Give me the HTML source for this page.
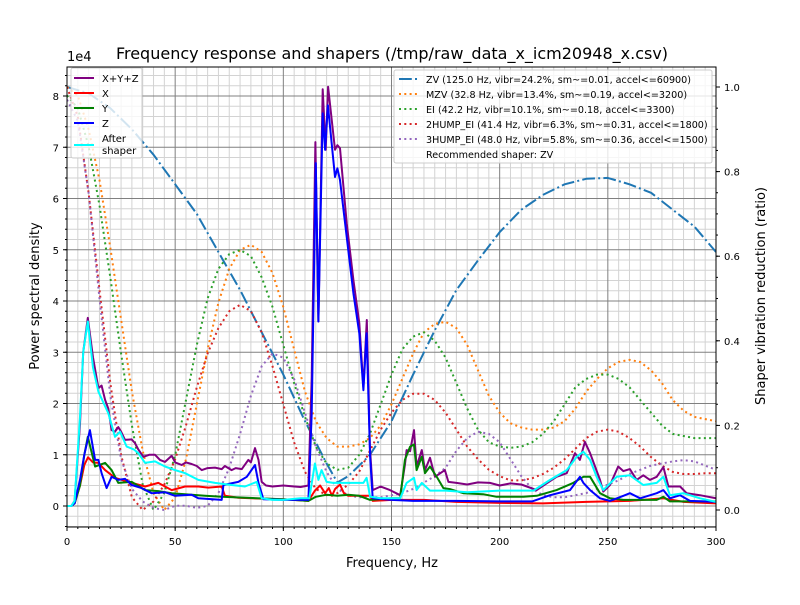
<!DOCTYPE html>
<html><head><meta charset="utf-8"><style>
html,body{margin:0;padding:0;background:#fff;}
svg text{font-family:"DejaVu Sans","Liberation Sans",sans-serif;}
</style></head><body>
<svg id="chart" width="800" height="600" xmlns="http://www.w3.org/2000/svg">
<defs><clipPath id="clip"><rect x="67" y="67" width="649" height="460"/></clipPath></defs>
<rect x="0" y="0" width="800" height="600" fill="#fff"/>
<g id="grid"></g>
<g id="series" clip-path="url(#clip)"></g>
<rect x="67" y="67" width="649" height="460" fill="none" stroke="#000" stroke-width="1"/>
<g id="axes"></g>
<text x="392" y="59" font-size="16" text-anchor="middle">Frequency response and shapers (/tmp/raw_data_x_icm20948_x.csv)</text>
<text x="392" y="567" font-size="13" text-anchor="middle">Frequency, Hz</text>
<text x="0" y="0" font-size="13" text-anchor="middle" transform="translate(39,296) rotate(-90)">Power spectral density</text>
<text x="0" y="0" font-size="13" text-anchor="middle" transform="translate(765,296) rotate(-90)">Shaper vibration reduction (ratio)</text>
<text x="67" y="61" font-size="13">1e4</text>
<g>
<rect x="71" y="68" width="71" height="90" fill="#fff" fill-opacity="0.8" stroke="#ccc" rx="2"/>
<line x1="74" y1="78" x2="94" y2="78" stroke="purple" stroke-width="2"/>
<text x="102" y="82" font-size="10">X+Y+Z</text>
<line x1="74" y1="93" x2="94" y2="93" stroke="red" stroke-width="2"/>
<text x="102" y="97" font-size="10">X</text>
<line x1="74" y1="108" x2="94" y2="108" stroke="green" stroke-width="2"/>
<text x="102" y="112" font-size="10">Y</text>
<line x1="74" y1="123" x2="94" y2="123" stroke="blue" stroke-width="2"/>
<text x="102" y="127" font-size="10">Z</text>
<line x1="74" y1="145" x2="94" y2="145" stroke="cyan" stroke-width="2"/>
<text x="102" y="142" font-size="10">After</text>
<text x="102" y="154" font-size="10">shaper</text>
</g>
<g>
<rect x="394" y="70" width="318" height="93" fill="#fff" fill-opacity="0.8" stroke="#ccc" rx="2"/>
<line x1="399" y1="79" x2="420" y2="79" stroke="#1f77b4" stroke-width="2" stroke-dasharray="12.8,3.2,2,3.2"/>
<text x="426" y="83" font-size="9.6">ZV (125.0 Hz, vibr=24.2%, sm~=0.01, accel&lt;=60900)</text>
<line x1="399" y1="94" x2="420" y2="94" stroke="#ff7f0e" stroke-width="2" stroke-dasharray="2,3.3"/>
<text x="426" y="98" font-size="9.6">MZV (32.8 Hz, vibr=13.4%, sm~=0.19, accel&lt;=3200)</text>
<line x1="399" y1="109" x2="420" y2="109" stroke="#2ca02c" stroke-width="2" stroke-dasharray="2,3.3"/>
<text x="426" y="113" font-size="9.6">EI (42.2 Hz, vibr=10.1%, sm~=0.18, accel&lt;=3300)</text>
<line x1="399" y1="124" x2="420" y2="124" stroke="#d62728" stroke-width="2" stroke-dasharray="2,3.3"/>
<text x="426" y="128" font-size="9.6">2HUMP_EI (41.4 Hz, vibr=6.3%, sm~=0.31, accel&lt;=1800)</text>
<line x1="399" y1="139" x2="420" y2="139" stroke="#9467bd" stroke-width="2" stroke-dasharray="2,3.3"/>
<text x="426" y="143" font-size="9.6">3HUMP_EI (48.0 Hz, vibr=5.8%, sm~=0.36, accel&lt;=1500)</text>
<text x="426" y="158" font-size="9.6">Recommended shaper: ZV</text>
</g>
</svg>
<script>
const xTicks=[0,50,100,150,200,250,300];
const yTicks=[0,1,2,3,4,5,6,7,8];
const rTicks=[0,0.2,0.4,0.6,0.8,1.0];
const rTickLabels=["0.0","0.2","0.4","0.6","0.8","1.0"];
const xyzF=[0,2,3.5,6,7.5,9.6,12,14.5,16,17.6,19.1,20.6,22.2,23.7,25,26.8,29.9,31.4,33,35.3,38,40.7,43,45.3,48.4,50,53,55,57.6,60,62.3,65,68.4,71.5,73,76.1,78,80.8,83.8,85,86.9,88.5,90,92,95,100,105,108,111.6,113.1,114.8,116.2,118.2,119.6,120.7,123.9,125,126.2,129.3,132.4,135.1,137,138.6,140,141.3,145,149.3,154,156.2,157,158.6,160.4,161.6,164,165.5,167.8,170.1,174.7,176.3,180,185,190,195.5,200,205,210,217.1,222,226.3,231,234.8,237.1,239.4,241.8,246.4,247.9,251,254.8,257.2,260.2,263.3,266.4,269.5,272.6,275.7,278,283.4,286.4,292.6,300];
const xyzV=[0,0,0.1,1.6,3.0,3.67,2.9,2.3,2.35,2.07,1.9,1.48,1.45,1.54,1.45,1.29,1.3,1.23,1.1,0.96,1.0,1.0,0.9,0.86,0.98,0.85,0.8,0.85,0.82,0.78,0.7,0.74,0.75,0.72,0.78,0.7,0.74,0.72,0.9,0.85,1.13,0.9,0.47,0.4,0.38,0.4,0.38,0.37,0.4,2.5,7.1,3.6,8.13,6.95,8.18,6.95,7.04,6.98,5.52,4.41,3.57,2.32,3.63,1.15,0.31,0.38,0.31,0.21,0.8,1.09,1.07,1.48,0.77,1.09,0.70,0.94,0.57,0.70,0.47,0.45,0.42,0.46,0.45,0.40,0.44,0.42,0.31,0.45,0.57,0.64,1.03,0.9,1.25,1.03,0.51,0.28,0.41,0.77,0.68,0.72,0.51,0.6,0.51,0.57,0.76,0.38,0.38,0.25,0.21,0.15];
const xF=[0,2,3.5,6,8,9.7,12,14.5,17.6,22.2,29.9,36.1,42.2,48.4,54.6,60.7,65.3,71.5,73,79.2,100,111.6,114.6,117,119.3,121,122.5,123.9,126.2,128,130,140,141.3,150,165,180,200,220,240,260,275.7,285,300];
const xV=[0,0,0.05,0.4,0.8,0.95,0.85,0.84,0.7,0.55,0.45,0.38,0.45,0.31,0.38,0.38,0.36,0.38,0.2,0.16,0.13,0.1,0.3,0.4,0.25,0.35,0.2,0.33,0.42,0.25,0.2,0.2,0.1,0.12,0.12,0.08,0.06,0.05,0.08,0.1,0.15,0.08,0.05];
const yF=[0,2,3.5,6,8,9.6,13,17.6,20.6,23.7,29.9,36.1,42.2,48.4,54.6,63.8,71.5,100,111.6,115,120,125,130,135,140.1,150,154,156.2,158.6,160.4,161.6,164,165.5,167.8,170.9,174,177,183.2,192.4,198.6,211,217.1,226.3,234,238.7,241.8,246.4,251,257.2,272.6,275.7,278.7,300];
const yV=[0,0,0.05,0.4,1.0,1.35,0.77,0.84,0.7,0.45,0.47,0.31,0.29,0.25,0.23,0.2,0.18,0.13,0.1,0.18,0.22,0.2,0.22,0.2,0.12,0.15,0.15,0.9,1.16,1.2,0.7,0.96,0.64,0.77,0.57,0.35,0.33,0.25,0.23,0.18,0.18,0.2,0.31,0.45,0.57,0.57,0.25,0.15,0.12,0.12,0.18,0.09,0.09];
const zF=[0,2,3.5,6,8,10.6,13,14.5,16,18.3,20.6,23.7,26.8,29.9,34.5,39.1,45.3,49.9,57.6,60.7,71.5,72.3,79.2,83.1,86.9,88.5,90.8,100,111.6,113.1,115,116.2,118.2,119.3,120.6,123.9,125,126.2,129.3,132.4,135.1,137,138.5,140.1,141.3,150,160,180,200,215,223.3,232.5,237.1,238.7,241.8,246.4,251,257.2,260.2,264.9,272.6,275.7,278.7,283.4,288,300];
const zV=[0,0,0.05,0.51,1.0,1.48,0.9,0.9,0.64,0.35,0.57,0.51,0.53,0.41,0.35,0.25,0.27,0.2,0.22,0.15,0.12,0.41,0.47,0.57,0.8,0.45,0.13,0.12,0.12,1.8,6.69,3.6,7.66,6.95,7.82,6.42,6.59,6.36,5.25,4.15,3.37,2.26,3.37,0.96,0.15,0.12,0.1,0.1,0.09,0.09,0.21,0.31,0.57,0.45,0.31,0.15,0.1,0.2,0.25,0.15,0.25,0.31,0.15,0.21,0.1,0.08];
const afterF=[0,2,3.5,6,7.5,9.6,12,14.5,17,19.1,22.2,24.5,27.6,31,33,36.1,40.7,45.3,49.9,54.6,60.7,68.4,76.1,82.3,87.7,90,95,100,108,112,114.6,116.2,117.7,120,123,130,137,138.5,140.1,145,154,157,160.4,161.6,164,167.8,175,185,200,215.6,223.3,231,235.6,238.7,241.8,244.8,247.9,254.1,260.2,266.4,272.6,275.7,278.7,284.9,292.6,300];
const afterV=[0,0,0.1,1.74,3.0,3.6,2.7,2.23,2.0,1.81,1.35,1.45,1.16,1.1,1.03,0.84,0.87,0.77,0.7,0.64,0.51,0.45,0.41,0.38,0.47,0.15,0.12,0.12,0.15,0.15,0.83,0.51,0.7,0.47,0.45,0.45,0.45,0.55,0.18,0.15,0.15,0.45,0.55,0.31,0.45,0.3,0.3,0.27,0.3,0.3,0.51,0.7,0.96,1.06,0.9,0.57,0.31,0.57,0.6,0.41,0.45,0.57,0.21,0.25,0.15,0.08];
const zvF=[0,10,20,30,40,50,60,70,80,90,100,110,120,125,130,140,150,160,170,180,190,200,210,220,230,240,250,260,270,280,290,300];
const zvV=[1.0,0.985,0.95,0.90,0.84,0.77,0.70,0.61,0.52,0.42,0.32,0.21,0.11,0.065,0.08,0.13,0.21,0.32,0.425,0.52,0.59,0.657,0.71,0.745,0.77,0.783,0.785,0.77,0.75,0.71,0.67,0.61];
const shaperF=[0,5,10,15,20,25,30,35,40,45,50,55,60,65,70,75,80,85,90,95,100,105,110,115,120,125,130,135,140,145,150,155,160,165,170,175,180,185,190,195,200,205,210,215,220,225,230,235,240,245,250,255,260,265,270,275,280,285,290,295,300];
const mzvV=[1.0,0.98,0.9,0.78,0.62,0.45,0.28,0.14,0.04,0.0,0.03,0.12,0.25,0.38,0.49,0.57,0.615,0.627,0.61,0.56,0.48,0.38,0.28,0.21,0.17,0.15,0.15,0.155,0.17,0.2,0.25,0.31,0.37,0.42,0.44,0.445,0.43,0.39,0.33,0.27,0.23,0.205,0.195,0.19,0.19,0.195,0.21,0.24,0.28,0.31,0.335,0.35,0.355,0.35,0.33,0.3,0.26,0.235,0.22,0.215,0.21];
const eiV=[0.98,0.95,0.86,0.72,0.55,0.37,0.2,0.06,0.0,0.04,0.13,0.26,0.39,0.5,0.57,0.605,0.615,0.6,0.55,0.48,0.39,0.3,0.22,0.15,0.11,0.095,0.1,0.13,0.18,0.25,0.32,0.38,0.41,0.42,0.4,0.36,0.3,0.24,0.19,0.16,0.15,0.147,0.15,0.16,0.18,0.21,0.25,0.29,0.31,0.32,0.32,0.31,0.29,0.26,0.23,0.2,0.18,0.175,0.17,0.17,0.17];
const hump2V=[1.0,0.93,0.75,0.52,0.3,0.13,0.03,0.0,0.02,0.06,0.12,0.2,0.29,0.37,0.43,0.47,0.485,0.47,0.42,0.34,0.25,0.16,0.09,0.05,0.035,0.04,0.06,0.09,0.14,0.19,0.23,0.26,0.275,0.275,0.26,0.23,0.19,0.15,0.12,0.095,0.08,0.07,0.07,0.075,0.085,0.1,0.12,0.145,0.17,0.185,0.19,0.185,0.17,0.15,0.125,0.105,0.09,0.085,0.085,0.087,0.087];
const hump3V=[0.97,0.92,0.75,0.5,0.27,0.12,0.05,0.02,0.005,0.0,0.01,0.01,0.005,0.01,0.04,0.1,0.18,0.27,0.34,0.37,0.36,0.31,0.23,0.15,0.09,0.05,0.035,0.03,0.03,0.03,0.035,0.04,0.05,0.065,0.08,0.1,0.14,0.17,0.185,0.18,0.16,0.12,0.08,0.05,0.035,0.03,0.03,0.035,0.04,0.05,0.06,0.07,0.085,0.095,0.105,0.11,0.115,0.118,0.115,0.105,0.095];

const NS="http://www.w3.org/2000/svg";
const X0=67,X1=716,YL0=506,YLper=51.25,YR0=510,YR1=87;
function xs(f){return X0+(f/300)*(X1-X0);}
function yl(v){return YL0-v*YLper;}
function yr(v){return YR0-v*(YR0-YR1);}
function mk(tag,attrs,parent){const e=document.createElementNS(NS,tag);for(const k in attrs)e.setAttribute(k,attrs[k]);parent.appendChild(e);return e;}
const grid=document.getElementById('grid'),axes=document.getElementById('axes'),series=document.getElementById('series');
for(let f=5;f<300;f+=5){if(f%50===0)continue;const l=mk('line',{x1:xs(f),x2:xs(f),y1:67,y2:527,stroke:'#d3d3d3','stroke-width':1},grid);

}
for(let v=-0.6;v<=8.6;v+=0.2){const r=Math.round(v*10)/10;if(Math.abs(r-Math.round(r))<1e-6)continue;const y=yl(r);if(y<67||y>527)continue;const l=mk('line',{x1:67,x2:716,y1:y,y2:y,stroke:'#d3d3d3','stroke-width':1},grid);

}
xTicks.forEach(t=>{const l=mk('line',{x1:xs(t),x2:xs(t),y1:67,y2:527,stroke:'#808080','stroke-width':1},grid);


const tk=mk('line',{x1:xs(t),x2:xs(t),y1:527,y2:531,stroke:'#000'},axes);


const tx=mk('text',{x:xs(t),y:545,'font-size':10,'text-anchor':'middle'},axes);tx.textContent=t;

});
yTicks.forEach(t=>{const y=yl(t);const l=mk('line',{x1:67,x2:716,y1:y,y2:y,stroke:'#808080','stroke-width':1},grid);


const tk=mk('line',{x1:63,x2:67,y1:y,y2:y,stroke:'#000'},axes);


const tx=mk('text',{x:59,y:y+4,'font-size':10,'text-anchor':'end'},axes);tx.textContent=t;

});
for(let v=-0.6;v<=8.6;v+=0.2){const y=yl(v);if(y<67||y>527)continue;const tk=mk('line',{x1:65,x2:67,y1:y,y2:y,stroke:'#000'},axes);

}
rTicks.forEach((t,i)=>{const y=yr(t);const tk=mk('line',{x1:716,x2:720,y1:y,y2:y,stroke:'#000'},axes);


const tx=mk('text',{x:724,y:y+4,'font-size':10},axes);tx.textContent=rTickLabels[i];

});
for(let v=-0.05;v<=1.1;v+=0.05){const y=yr(v);if(y<67||y>527)continue;const tk=mk('line',{x1:716,x2:718,y1:y,y2:y,stroke:'#000'},axes);

}
for(let f=5;f<300;f+=5){const tk=mk('line',{x1:xs(f),x2:xs(f),y1:527,y2:529,stroke:'#000'},axes);

}
function path(F,V,yf){return F.map((f,i)=>(i?'L':'M')+xs(f).toFixed(1)+','+yf(V[i]).toFixed(1)).join(' ');}
function draw(F,V,yf,color,dash,name){const p=mk('path',{d:path(F,V,yf),fill:'none',stroke:color,'stroke-width':2,'stroke-linejoin':'round'},series);if(dash)p.setAttribute('stroke-dasharray',dash);

}
draw(zvF,zvV,yr,'#1f77b4','12.8,3.2,2,3.2','zv-shaper-line');
draw(shaperF,mzvV,yr,'#ff7f0e','2,3.3','mzv-shaper-line');
draw(shaperF,eiV,yr,'#2ca02c','2,3.3','ei-shaper-line');
draw(shaperF,hump2V,yr,'#d62728','2,3.3','2hump-ei-shaper-line');
draw(shaperF,hump3V,yr,'#9467bd','2,3.3','3hump-ei-shaper-line');
draw(xyzF,xyzV,yl,'purple',null,'xyz-psd-line');
draw(xF,xV,yl,'red',null,'x-psd-line');
draw(yF,yV,yl,'green',null,'y-psd-line');
draw(zF,zV,yl,'blue',null,'z-psd-line');
draw(afterF,afterV,yl,'cyan',null,'after-shaper-psd-line');
</script>
</body></html>
